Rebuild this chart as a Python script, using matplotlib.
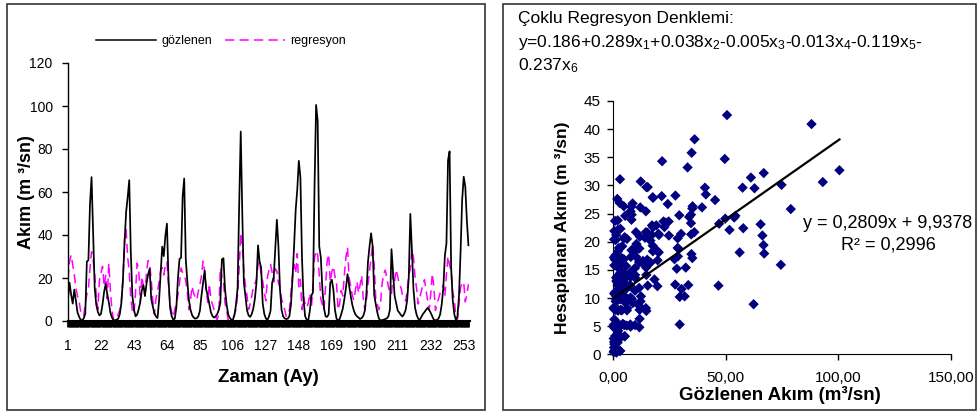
import matplotlib
matplotlib.use("Agg")
import matplotlib.pyplot as plt
from matplotlib.ticker import FixedLocator, FuncFormatter
from matplotlib.patches import Rectangle
from matplotlib.lines import Line2D
import numpy as np

plt.rcParams['font.family'] = ['Liberation Sans', 'DejaVu Sans']
plt.rcParams['mathtext.fontset'] = 'custom'
plt.rcParams['mathtext.rm'] = 'Liberation Sans'
plt.rcParams['mathtext.it'] = 'Liberation Sans:italic'
plt.rcParams['mathtext.bf'] = 'Liberation Sans:bold'

# ---------------- data ----------------
months = list(range(1, 257))

observed = [
    10.4, 17.8, 12.3, 8.1, 14.6, 9.7, 4.2, 2.1, 0.6, 0.3,          # 1-10
    1.2, 3.4, 27.6, 28.3, 54.3, 66.9, 41.2, 15.3, 7.6, 4.3,        # 11-20
    2.6, 3.3, 7.8, 13.6, 17.2, 12.4, 8.7, 3.9, 1.6, 0.5,           # 21-30
    0.3, 0.6, 1.1, 3.2, 8.4, 19.6, 36.2, 50.6, 57.5, 65.5,         # 31-40
    31.8, 11.7, 5.3, 2.2, 2.9, 5.4, 8.8, 14.2, 16.7, 11.6,         # 41-50
    17.3, 21.6, 24.3, 10.2, 6.8, 3.7, 2.1, 1.4, 9.6, 22.4,         # 51-60
    34.6, 30.2, 39.5, 45.3, 19.8, 6.2, 2.3, 0.6, 1.1, 6.3,         # 61-70
    19.7, 28.8, 29.4, 57.8, 66.3, 28.7, 18.4, 9.8, 5.2, 2.8,       # 71-80
    1.6, 1.1, 1.3, 2.2, 4.8, 11.9, 17.6, 23.4, 14.8, 11.7,         # 81-90
    7.9, 4.1, 2.3, 1.6, 2.1, 3.2, 5.1, 8.3, 28.7, 29.2,            # 91-100
    14.6, 7.8, 3.1, 1.5, 0.6, 0.5, 2.8, 7.7, 15.4, 53.8,           # 101-110
    88.1, 49.6, 17.8, 11.6, 4.9, 2.6, 1.9, 3.2, 5.8, 10.3,         # 111-120
    17.6, 35.2, 27.7, 24.8, 8.2, 3.3, 1.2, 0.5, 2.1, 4.8,          # 121-130
    17.8, 20.3, 33.8, 47.1, 34.8, 14.7, 5.2, 2.1, 1.2, 0.9,        # 131-140
    1.1, 2.3, 7.7, 20.4, 35.3, 51.7, 61.2, 74.5, 66.8, 29.6,       # 141-150
    9.8, 2.2, 0.6, 0.3, 4.7, 11.8, 13.3, 62.8, 100.5, 93.1,        # 151-160
    34.7, 29.6, 14.8, 6.1, 2.2, 1.9, 3.1, 17.7, 19.2, 14.6,        # 161-170
    5.2, 1.1, 0.3, 0.9, 3.2, 5.8, 10.2, 15.4, 21.8, 16.6,          # 171-180
    11.8, 7.7, 4.9, 3.1, 2.2, 1.6, 0.9, 1.4, 2.3, 4.7,             # 181-190
    12.2, 27.3, 34.6, 40.8, 34.9, 12.1, 7.8, 3.9, 1.1, 0.3,        # 191-200
    0.4, 0.6, 0.9, 1.2, 2.1, 5.2, 33.4, 22.8, 11.7, 8.2,           # 201-210
    4.8, 3.9, 2.8, 2.1, 3.2, 5.1, 9.8, 20.2, 49.8, 33.1,           # 211-220
    14.8, 6.2, 2.9, 1.1, 0.5, 1.8, 3.2, 4.1, 5.2, 6.1,             # 221-230
    5.1, 3.8, 2.1, 0.6, 0.3, 0.5, 1.2, 3.1, 7.8, 15.2,             # 231-240
    30.4, 36.1, 74.8, 78.9, 24.7, 9.8, 3.2, 0.5, 2.1, 11.8,        # 241-250
    32.3, 56.2, 67.1, 62.4, 46.8, 35.2,                            # 251-256
]

regression = [
    19.6, 27.8, 30.7, 26.2, 21.7, 15.3, 11.8, 9.6, 4.7, 2.8,       # 1-10
    2.3, 7.9, 12.4, 15.2, 24.6, 32.2, 28.4, 21.6, 12.3, 5.4,       # 11-20
    18.9, 22.3, 25.4, 16.1, 21.2, 10.3, 26.8, 13.9, 5.2, 0.6,      # 21-30
    0.4, 1.2, 3.3, 5.1, 9.8, 18.4, 38.2, 42.5, 29.6, 23.1,         # 31-40
    10.3, 4.8, 3.2, 13.2, 26.9, 24.6, 9.1, 20.7, 16.3, 11.8,       # 41-50
    22.9, 28.1, 26.7, 19.1, 9.7, 3.1, 10.4, 13.6, 18.2, 23.6,      # 51-60
    24.8, 21.4, 26.1, 27.4, 16.7, 7.8, 4.2, 1.8, 5.3, 8.2,         # 61-70
    12.1, 17.4, 24.7, 22.4, 21.1, 18.9, 13.3, 5.2, 9.7, 16.2,      # 71-80
    12.9, 11.1, 9.8, 13.8, 16.9, 20.9, 27.9, 23.4, 14.1, 8.6,      # 81-90
    17.3, 10.2, 7.8, 5.3, 2.1, 0.6, 3.2, 24.8, 20.6, 18.7,         # 91-100
    8.2, 4.9, 0.6, 0.3, 0.5, 1.2, 3.1, 5.3, 12.2, 24.3,            # 101-110
    40.9, 34.7, 22.7, 16.4, 11.7, 5.3, 7.9, 11.4, 15.7, 17.3,      # 111-120
    19.3, 25.9, 28.2, 21.1, 18.5, 13.4, 9.4, 20.4, 23.8, 26.3,     # 121-130
    22.6, 18.1, 24.4, 23.2, 17.8, 15.4, 10.3, 7.9, 5.2, 2.1,       # 131-140
    3.2, 5.1, 13.7, 21.2, 26.3, 22.1, 31.4, 15.9, 19.4, 5.3,       # 141-150
    11.3, 7.8, 6.2, 8.3, 12.9, 6.3, 16.6, 29.5, 32.7, 30.6,        # 151-160
    21.3, 10.2, 7.7, 5.1, 15.9, 27.6, 31.1, 18.3, 22.9, 25.4,      # 161-170
    20.8, 17.6, 5.2, 8.1, 14.2, 11.6, 21.7, 29.7, 34.3, 20.2,      # 171-180
    16.3, 12.1, 9.7, 14.4, 18.3, 13.1, 16.8, 21.2, 10.7, 5.3,      # 181-190
    9.4, 16.9, 23.3, 29.6, 35.8, 26.1, 10.1, 7.8, 5.2, 8.1,        # 191-200
    17.2, 21.9, 23.7, 20.3, 16.1, 13.5, 12.3, 22.6, 18.8, 23.9,    # 201-210
    20.6, 17.1, 15.6, 12.2, 10.9, 9.3, 14.1, 21.4, 24.1, 33.2,     # 211-220
    29.7, 20.5, 15.1, 7.9, 10.8, 13.8, 16.9, 19.2, 14.3, 9.6,      # 221-230
    5.2, 12.6, 22.1, 15.8, 4.9, 8.2, 10.4, 13.1, 14.6, 16.8,       # 231-240
    11.6, 21.7, 30.1, 25.8, 23.6, 13.6, 9.8, 2.2, 0.6, 7.9,        # 241-250
    15.4, 18.1, 17.9, 8.9, 12.2, 17.1,                             # 251-256
]

assert len(observed) == 256 and len(regression) == 256

x_tick_months = [1, 22, 43, 64, 85, 106, 127, 148, 169, 190, 211, 232, 253]
left_y_ticks = [0, 20, 40, 60, 80, 100, 120]
scatter_x_ticks = [0, 50, 100, 150]
scatter_y_ticks = [0, 5, 10, 15, 20, 25, 30, 35, 40, 45]
legend_labels = ["gözlenen", "regresyon"]

trend_slope = 0.2809
trend_intercept = 9.9378
r_squared = 0.2996

eq_title = "Çoklu Regresyon Denklemi:"
eq_intercept = 0.186
eq_coefs = [0.289, 0.038, -0.005, -0.013, -0.119, -0.237]

# ---------------- figure ----------------
W, H = 978, 413
fig = plt.figure(figsize=(W / 100, H / 100), dpi=100)
fig.patch.set_facecolor('white')

def fx(px):
    return px / W

def fy(py):
    return 1 - py / H

# panel frames
fig.add_artist(Rectangle((fx(7), fy(410)), fx(485 - 7), (410 - 4) / H,
                         transform=fig.transFigure, fill=False,
                         edgecolor='#333333', lw=1.2))
fig.add_artist(Rectangle((fx(503), fy(410)), fx(976 - 503), (410 - 4) / H,
                         transform=fig.transFigure, fill=False,
                         edgecolor='#333333', lw=1.2))

# ---------------- left: time series ----------------
ax1 = fig.add_axes([fx(68), fy(321), fx(470 - 68), (321 - 63) / H])
ax1.plot(months, observed, color='black', lw=1.25, zorder=3)
ax1.plot(months, regression, color='#FF00FF', lw=1.1, dashes=(6, 3.5), zorder=2)
ax1.set_xlim(1, 257)
ax1.set_ylim(0, 120)
for s in ['top', 'right']:
    ax1.spines[s].set_visible(False)
ax1.spines['left'].set_linewidth(1.0)
ax1.spines['bottom'].set_linewidth(1.5)
ax1.xaxis.set_major_locator(FixedLocator(x_tick_months))
ax1.xaxis.set_minor_locator(FixedLocator(months))
ax1.set_yticks(left_y_ticks)
ax1.tick_params(axis='x', which='both', direction='out', length=4, width=2.0,
                labelsize=10, pad=9)
ax1.tick_params(axis='y', direction='out', length=4, width=1.0, labelsize=10, pad=7)

fig.text(fx(268), fy(377), 'Zaman (Ay)', ha='center', va='center',
         fontsize=13.5, fontweight='bold')
fig.text(fx(27), fy(192), 'Akım (m ³/sn)', ha='center', va='center',
         rotation=90, fontsize=13, fontweight='bold')

handles = [Line2D([], [], color='black', lw=1.1),
           Line2D([], [], color='#FF00FF', lw=1.1, dashes=(6, 3.5))]
fig.legend(handles, legend_labels, loc='center', bbox_to_anchor=(fx(221), fy(41)),
           ncol=2, frameon=False, fontsize=9, handlelength=4.8,
           handletextpad=0.4, columnspacing=1.0, borderpad=0)

# ---------------- right: scatter ----------------
ax2 = fig.add_axes([fx(613), fy(354.3), fx(951 - 613), (354.3 - 101) / H])
ax2.scatter(observed, regression, marker='D', s=28, color='#000080',
            edgecolors='none', zorder=3, clip_on=False)
tx = np.array([0, max(observed)])
ax2.plot(tx, trend_slope * tx + trend_intercept, color='black', lw=1.6, zorder=4)
ax2.set_xlim(0, 150)
ax2.set_ylim(0, 45)
for s in ['top', 'right']:
    ax2.spines[s].set_visible(False)
ax2.set_xticks(scatter_x_ticks)
ax2.set_yticks(scatter_y_ticks)
ax2.xaxis.set_major_formatter(FuncFormatter(lambda v, p: f"{v:.2f}".replace('.', ',')))
ax2.tick_params(axis='x', direction='out', length=4, width=1.0, labelsize=11, pad=8)
ax2.tick_params(axis='y', direction='out', length=4, width=1.0, labelsize=11, pad=5)

fig.text(fx(780), fy(395), 'Gözlenen Akım (m³/sn)', ha='center', va='center',
         fontsize=13.5, fontweight='bold')
fig.text(fx(562), fy(228), 'Hesaplanan Akım (m ³/sn)', ha='center', va='center',
         rotation=90, fontsize=12.5, fontweight='bold')

eq_line1 = f"y = {trend_slope:.4f}x + {trend_intercept:.4f}".replace('.', ',')
eq_line2 = f"R² = {r_squared:.4f}".replace('.', ',')
fig.text(fx(888), fy(223), eq_line1, ha='center', va='center', fontsize=13)
fig.text(fx(888), fy(245), eq_line2, ha='center', va='center', fontsize=13)

# regression equation text
terms = []
for i, c in enumerate(eq_coefs, start=1):
    sign = '+' if c >= 0 else '-'
    terms.append((sign, f"{abs(c):.3f}x$\\mathregular{{_{i}}}$"))
line2 = f"y={eq_intercept:.3f}" + "".join(sg + t for sg, t in terms[:5]) + terms[5][0]
line3 = terms[5][1]
fig.text(fx(518), fy(18), eq_title, ha='left', va='center', fontsize=12.5)
fig.text(fx(518), fy(43), line2, ha='left', va='center', fontsize=12.5)
fig.text(fx(518), fy(66), line3, ha='left', va='center', fontsize=12.5)

fig.savefig('out.png', dpi=100)
